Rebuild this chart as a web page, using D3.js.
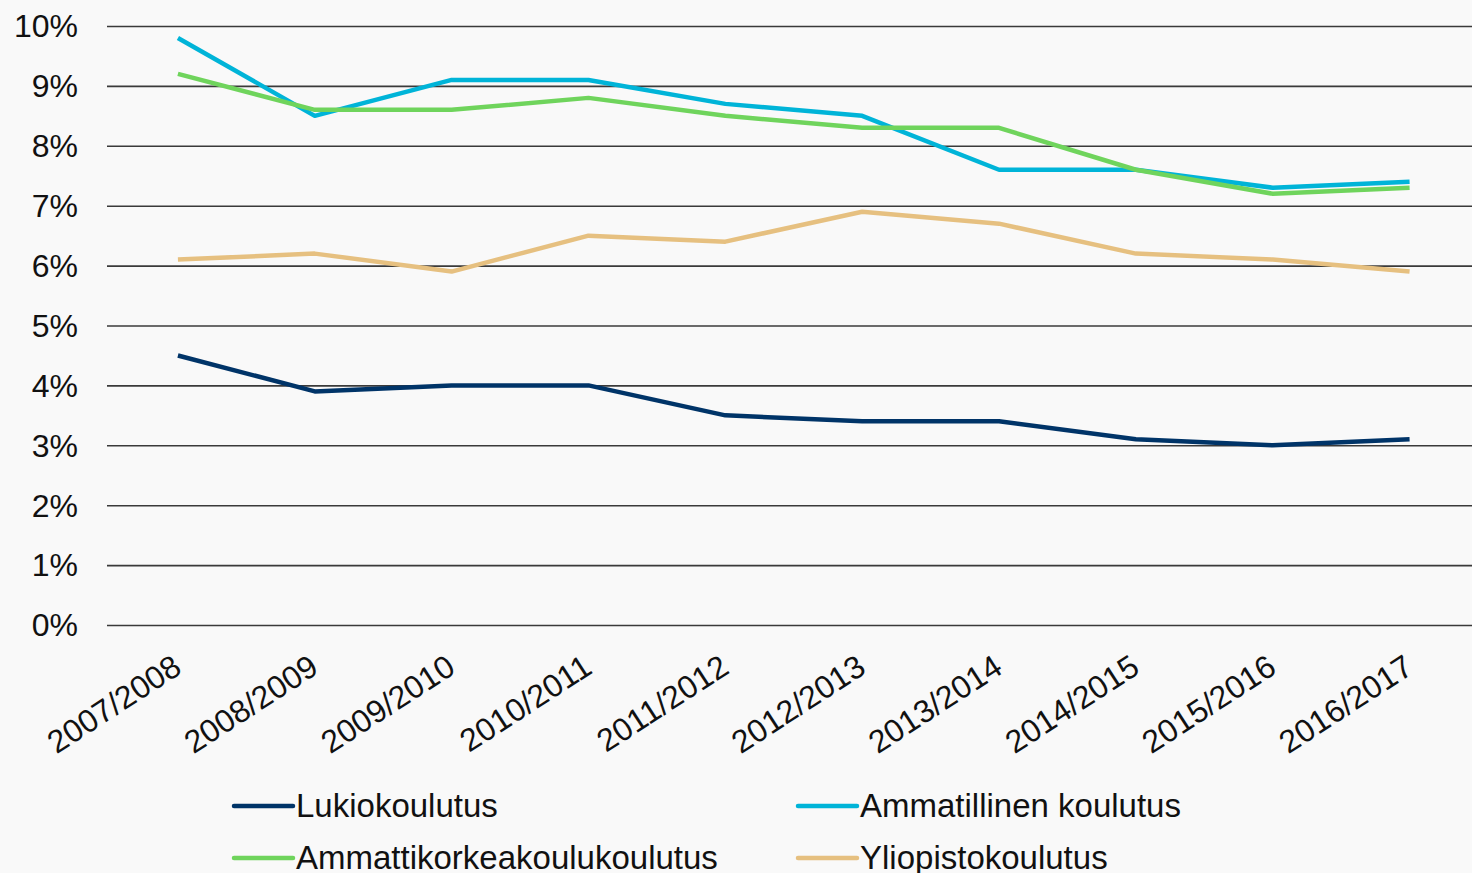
<!DOCTYPE html>
<html><head><meta charset="utf-8">
<script src="https://cdn.jsdelivr.net/npm/d3@7"></script>
<style>
html,body{margin:0;padding:0;background:#f9f9f9;}
svg{display:block;}
text{font-family:"Liberation Sans",Arial,sans-serif;fill:#111;}
</style></head>
<body>
<svg id="chart" width="1472" height="873"></svg>
<script>
const categories = ["2007/2008","2008/2009","2009/2010","2010/2011","2011/2012","2012/2013","2013/2014","2014/2015","2015/2016","2016/2017"];
const lukio = [4.5,3.9,4.0,4.0,3.5,3.4,3.4,3.1,3.0,3.1];
const ammatillinen = [9.8,8.5,9.1,9.1,8.7,8.5,7.6,7.6,7.3,7.4];
const amk = [9.2,8.6,8.6,8.8,8.5,8.3,8.3,7.6,7.2,7.3];
const yliopisto = [6.1,6.2,5.9,6.5,6.4,6.9,6.7,6.2,6.1,5.9];
const yTicks = [0,1,2,3,4,5,6,7,8,9,10];
const seriesNames = ["Lukiokoulutus","Ammatillinen koulutus","Ammattikorkeakoulukoulutus","Yliopistokoulutus"];
const colors = ["#003468","#00b4d8","#6fd45c","#e6c080"];

const series = [
  {name: seriesNames[0], values: lukio, color: colors[0]},
  {name: seriesNames[1], values: ammatillinen, color: colors[1]},
  {name: seriesNames[2], values: amk, color: colors[2]},
  {name: seriesNames[3], values: yliopisto, color: colors[3]}
];

const svg = d3.select("#chart");
const x = d3.scalePoint().domain(categories).range([109.5, 1478]).padding(0.5);
const y = d3.scaleLinear().domain([0,10]).range([625, 26]);

// gridlines
const yAxis = d3.axisLeft(y).tickValues(yTicks).tickFormat(d => d + "%").tickSize(0).tickPadding(0);
const gy = svg.append("g").attr("transform","translate(107,0)").call(yAxis);
gy.select(".domain").remove();
gy.selectAll(".tick line").attr("x2", 1472-107).attr("stroke","#3a3a3a").attr("stroke-width",1.6);
gy.selectAll(".tick text").attr("x",-29).attr("dy","0.34em").style("font-size","32px").style("text-anchor","end");

// x axis labels
const xAxis = d3.axisBottom(x).tickSize(0).tickPadding(0);
const gx = svg.append("g").attr("transform","translate(0,625)").call(xAxis);
gx.select(".domain").remove();
gx.selectAll(".tick text")
  .attr("y",0).attr("dy",0)
  .style("font-size","32px")
  .style("text-anchor","end")
  .attr("transform","translate(5,47) rotate(-33)");

// lines
const line = d3.line().x((d,i) => x(categories[i])).y(d => y(d));
svg.append("g").selectAll("path").data(series).join("path")
  .attr("d", d => line(d.values))
  .attr("fill","none")
  .attr("stroke", d => d.color)
  .attr("stroke-width",4.5)
  .attr("stroke-linejoin","round");

// legend
const legendPos = [[234,806],[798,806],[234,858],[798,858]];
const lg = svg.append("g").selectAll("g").data(series).join("g")
  .attr("transform",(d,i)=>`translate(${legendPos[i][0]},${legendPos[i][1]})`);
lg.append("line").attr("x1",0).attr("x2",59).attr("y1",0).attr("y2",0)
  .attr("stroke",d=>d.color).attr("stroke-width",4.5).attr("stroke-linecap","round");
lg.append("text").attr("x",62).attr("y",11).style("font-size","33px").text(d=>d.name);
</script>
</body></html>
